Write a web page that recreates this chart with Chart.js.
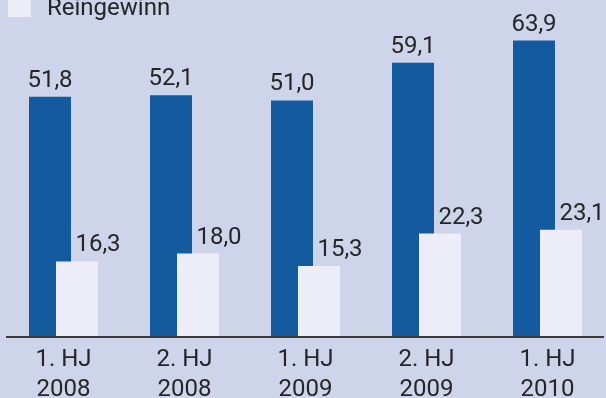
<!DOCTYPE html>
<html>
<head>
<meta charset="utf-8">
<script src="https://cdn.jsdelivr.net/npm/chart.js@4/dist/chart.umd.min.js"></script>
<style>
  body { margin: 0; }
  #wrap { position: relative; width: 606px; height: 398px; overflow: hidden; background: #ced4ea; }
  #chart { position: absolute; left: -3px; top: -10px; }
</style>
</head>
<body>
<div id="wrap"><canvas id="chart" width="612" height="423"></canvas></div>
<script>
// Halbjahre
const categories = [['1. HJ', '2008'], ['2. HJ', '2008'], ['1. HJ', '2009'], ['2. HJ', '2009'], ['1. HJ', '2010']];
// dunkle Balken (Legende oben abgeschnitten)
const umsatz = [51.8, 52.1, 51.0, 59.1, 63.9];
// helle Balken
const reingewinn = [16.3, 18.0, 15.3, 22.3, 23.1];

const darkBlue = '#135a9f';
const lightBar = '#ecedf7';
const textCol = '#262626';

const fmt = v => v.toFixed(1).replace('.', ',');

// light bars must sit on top of the dark ones, so draw datasets in index order
const drawOrder = {
    id: 'drawOrder',
    beforeDatasetsDraw(chart) {
        chart.data.datasets.forEach((ds, i) => {
            chart.getDatasetMeta(i).controller.draw();
        });
        return false;
    },
    afterDraw(chart) {
        const ctx = chart.ctx;
        const area = chart.chartArea;
        const y0 = chart.scales.y.getPixelForValue(0);
        ctx.save();
        ctx.strokeStyle = '#3a3a3a';
        ctx.lineWidth = 2;
        ctx.beginPath();
        ctx.moveTo(area.left + 3, y0);
        ctx.lineTo(area.right - 4, y0);
        ctx.stroke();

        ctx.fillStyle = textCol;
        ctx.font = '24px Roboto';
        ctx.textAlign = 'center';
        ctx.textBaseline = 'alphabetic';
        chart.data.datasets.forEach((ds, i) => {
            chart.getDatasetMeta(i).data.forEach((bar, j) => {
                let x = bar.x;
                if (i === 1) x = bar.x + bar.width / 2;
                ctx.fillText(fmt(ds.data[j]), x, bar.y - 10);
            });
        });

        // legend entry, partly cut off at the top
        const lg = chart.data.datasets[1];
        ctx.fillStyle = lg.backgroundColor;
        ctx.fillRect(area.left + 5, 4, 23, 23);
        ctx.fillStyle = textCol;
        ctx.textAlign = 'left';
        ctx.fillText(lg.label, area.left + 44, 25);
        ctx.restore();
    }
};

new Chart(document.getElementById('chart'), {
    type: 'bar',
    data: {
        labels: categories,
        datasets: [{
            label: 'Umsatz',
            data: umsatz,
            backgroundColor: darkBlue,
            borderWidth: 0,
            categoryPercentage: 54 / 121,
            barPercentage: 42 / 27
        }, {
            label: 'Reingewinn',
            data: reingewinn,
            backgroundColor: lightBar,
            borderWidth: 0,
            categoryPercentage: 54 / 121,
            barPercentage: 42 / 27
        }]
    },
    options: {
        responsive: false,
        animation: false,
        devicePixelRatio: 1,
        layout: { padding: { left: 6, right: 1, top: 39, bottom: 0 } },
        plugins: {
            tooltip: { enabled: false },
            legend: { display: false }
        },
        scales: {
            x: {
                grid: { display: false, drawTicks: false },
                border: { display: false },
                ticks: {
                    color: textCol,
                    padding: 8,
                    maxRotation: 0,
                    font: { family: 'Roboto', size: 24, lineHeight: 1.25 }
                }
            },
            y: {
                display: false,
                min: 0,
                max: 66.4
            }
        }
    },
    plugins: [drawOrder]
});
</script>
</body>
</html>
